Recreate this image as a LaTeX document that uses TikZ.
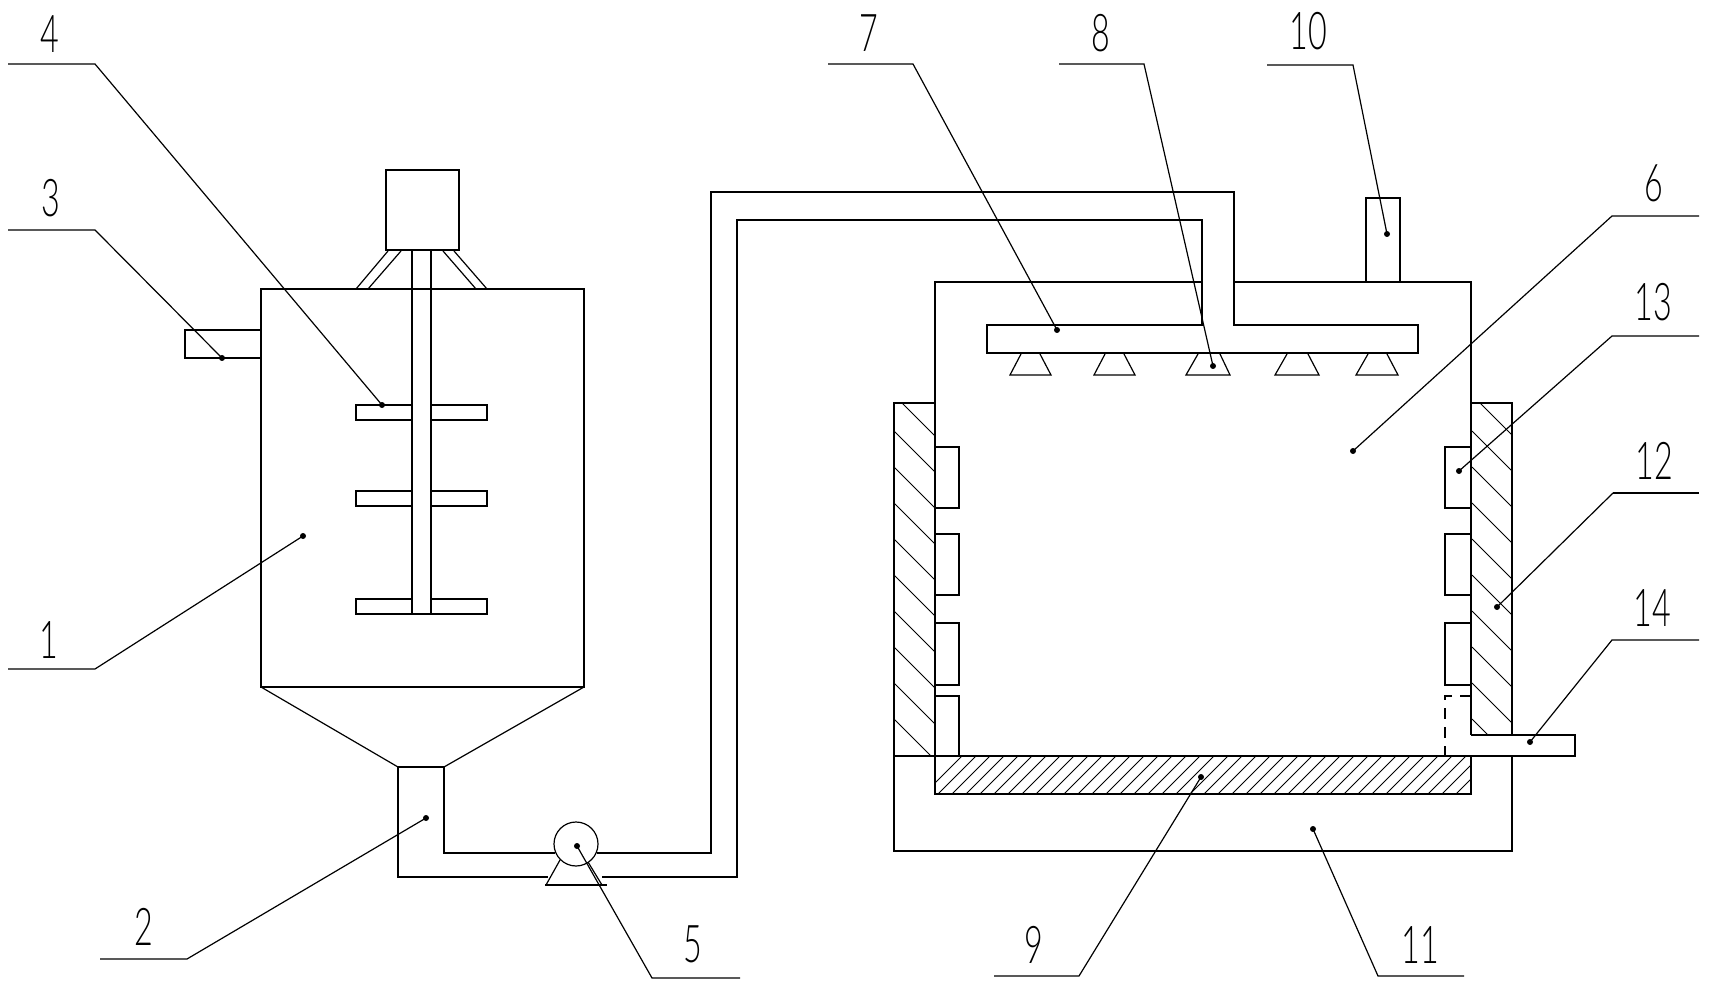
\documentclass[tikz,border=0pt]{standalone}
\usepackage{fontspec}
\newfontfamily\numfont[UprightFont=* Light]{Lato}
\tikzset{
  wall/.style={line width=1.5pt},
  thinwall/.style={line width=1.2pt},
  hatchline/.style={line width=1pt},
  leaderline/.style={line width=1.2pt},
  enddot/.style={circle, fill=black, inner sep=0pt, minimum size=6pt},
  numlabel/.style={inner sep=0pt, font=\numfont\fontsize{52}{52}\selectfont, xscale=0.62, transform shape},
}
\begin{document}
\begin{tikzpicture}[x=1pt, y=-1pt]
  \useasboundingbox (0,0) rectangle (1709,984);
  % MIXING TANK
  % -- motor and struts
  \draw[wall] (386,170) rectangle (459,250);
  \draw[thinwall] (388,251) -- (356,289);
  \draw[thinwall] (401,251) -- (368,289);
  \draw[thinwall] (443,251) -- (476,289);
  \draw[thinwall] (454,251) -- (487,289);
  % -- body and cone
  \draw[wall] (261,687) -- (261,289) -- (584,289) -- (584,687) -- cycle;
  \draw[thinwall] (261,687) -- (398,767);
  \draw[thinwall] (584,687) -- (444,767);
  % -- inlet
  \draw[wall] (261,330) -- (185,330) -- (185,358) -- (261,358);
  % -- shaft and paddles
  \draw[wall] (412,250) -- (412,614) -- (431,614) -- (431,250);
  \draw[wall] (412,405) -- (356,405) -- (356,420) -- (412,420);
  \draw[wall] (431,405) -- (487,405) -- (487,420) -- (431,420);
  \draw[wall] (412,491) -- (356,491) -- (356,506) -- (412,506);
  \draw[wall] (431,491) -- (487,491) -- (487,506) -- (431,506);
  \draw[wall] (412,599) -- (356,599) -- (356,614) -- (412,614);
  \draw[wall] (431,599) -- (487,599) -- (487,614) -- (431,614);
  % PIPE AND PUMP
  \draw[wall] (398,767) -- (444,767);
  \draw[wall] (444,767) -- (444,853) -- (555,853);
  \draw[wall] (398,767) -- (398,877) -- (548,877);
  \draw[wall] (597,853) -- (711,853) -- (711,192) -- (1234,192) -- (1234,325) -- (1418,325) -- (1418,353) -- (987,353) -- (987,325) -- (1202,325) -- (1202,220) -- (737,220) -- (737,877) -- (602,877);
  \draw[thinwall] (576,844) circle (22);
  \draw[thinwall] (560,860) -- (546,885);
  \draw[thinwall] (588,862) -- (602,885);
  \draw[line width=2pt] (545,885) -- (607,885);
  % DRYING CHAMBER
  % -- shell
  \draw[wall] (935,756) -- (935,282) -- (1202,282);
  \draw[wall] (1234,282) -- (1471,282) -- (1471,735);
  % -- exhaust
  \draw[wall] (1366,282) -- (1366,198) -- (1400,198) -- (1400,282);
  % -- nozzles
  \draw[thinwall] (1021,354) -- (1010,375) -- (1051,375) -- (1040,354);
  \draw[thinwall] (1105,354) -- (1094,375) -- (1135,375) -- (1124,354);
  \draw[thinwall] (1198,354) -- (1186,375) -- (1230,375) -- (1220,354);
  \draw[thinwall] (1287,354) -- (1275,375) -- (1319,375) -- (1308,354);
  \draw[thinwall] (1368,354) -- (1356,375) -- (1398,375) -- (1387,354);
  % -- jackets
  \draw[wall] (935,403) -- (894,403) -- (894,851) -- (1512,851) -- (1512,756);
  \draw[wall] (1471,403) -- (1512,403) -- (1512,735);
  \draw[wall] (894,756) -- (1445,756);
  \begin{scope}
    \clip (894,403) rectangle (935,756);
    \foreach \ystart in {359,395,...,719}
      \draw[hatchline] (894,\ystart) -- (935,\ystart+41);
  \end{scope}
  \begin{scope}
    \clip (1471,403) rectangle (1512,735);
    \foreach \ystart in {359,395,...,719}
      \draw[hatchline] (1472,\ystart) -- (1513,\ystart+41);
  \end{scope}
  % -- heaters
  \draw[wall] (935,447) -- (959,447) -- (959,508) -- (935,508);
  \draw[wall] (935,534) -- (959,534) -- (959,595) -- (935,595);
  \draw[wall] (935,623) -- (959,623) -- (959,685) -- (935,685);
  \draw[wall] (935,696) -- (959,696) -- (959,756);
  \draw[wall] (1471,447) -- (1445,447) -- (1445,508) -- (1471,508);
  \draw[wall] (1471,534) -- (1445,534) -- (1445,595) -- (1471,595);
  \draw[wall] (1471,623) -- (1445,623) -- (1445,685) -- (1471,685);
  \draw[line width=2pt, dash pattern=on 11pt off 8pt] (1471,696) -- (1445,696) -- (1445,756);
  % -- drain
  \draw[wall] (1471,735) -- (1575,735) -- (1575,756) -- (1445,756);
  % -- filter bed
  \draw[wall] (935,756) -- (935,794) -- (1471,794) -- (1471,756);
  \begin{scope}
    \clip (935,756) rectangle (1471,794);
    \foreach \xstart in {924,938,...,1470}
      \draw[hatchline] (\xstart,794) -- (\xstart+38,756);
  \end{scope}
  % LEADERS
  \coordinate (dot1) at (303,536);
  \coordinate (dot2) at (426,818);
  \coordinate (dot3) at (222,358);
  \coordinate (dot4) at (382,405);
  \coordinate (dot5) at (577,846);
  \coordinate (dot6) at (1353,451);
  \coordinate (dot7) at (1057,330);
  \coordinate (dot8) at (1213,366);
  \coordinate (dot9) at (1201,777);
  \coordinate (dot10) at (1387,234);
  \coordinate (dot11) at (1313,829);
  \coordinate (dot12) at (1497,607);
  \coordinate (dot13) at (1459,471);
  \coordinate (dot14) at (1530,742);
  \draw[leaderline] (dot1) -- (95,669) -- (8,669);
  \draw[leaderline] (dot2) -- (187,959) -- (100,959);
  \draw[leaderline] (dot3) -- (95,230) -- (8,230);
  \draw[leaderline] (dot4) -- (95,64) -- (8,64);
  \draw[leaderline] (dot5) -- (652,978) -- (740,978);
  \draw[leaderline] (dot6) -- (1612,216) -- (1699,216);
  \draw[leaderline] (dot7) -- (913,64) -- (828,64);
  \draw[leaderline] (dot8) -- (1144,64) -- (1059,64);
  \draw[leaderline] (dot9) -- (1079,976) -- (994,976);
  \draw[leaderline] (dot10) -- (1353,65) -- (1267,65);
  \draw[leaderline] (dot11) -- (1378,976) -- (1464,976);
  \draw[leaderline] (dot12) -- (1613,493);
  \draw[line width=2pt] (1613,493) -- (1699,493);
  \draw[leaderline] (dot13) -- (1612,336) -- (1699,336);
  \draw[leaderline] (dot14) -- (1612,640) -- (1699,640);
  \foreach \dotname in {1,...,14}
    \node[enddot] at (dot\dotname) {};
  % NUMBERS
  \node[numlabel] (num1) at (49,640) {1};
  \node[numlabel] (num2) at (144,927) {2};
  \node[numlabel] (num3) at (51,198) {3};
  \node[numlabel] (num4) at (50,34) {4};
  \node[numlabel] (num5) at (693,944) {5};
  \node[numlabel] (num6) at (1654,183) {6};
  \node[numlabel] (num7) at (869,33) {7};
  \node[numlabel] (num8) at (1101,33) {8};
  \node[numlabel] (num9) at (1034,945) {9};
  \node[numlabel] (num10) at (1308,31) {10};
  \node[numlabel] (num11) at (1420,945) {11};
  \node[numlabel] (num12) at (1654,461) {12};
  \node[numlabel] (num13) at (1653,302) {13};
  \node[numlabel] (num14) at (1652,608) {14};
\end{tikzpicture}
\end{document}
